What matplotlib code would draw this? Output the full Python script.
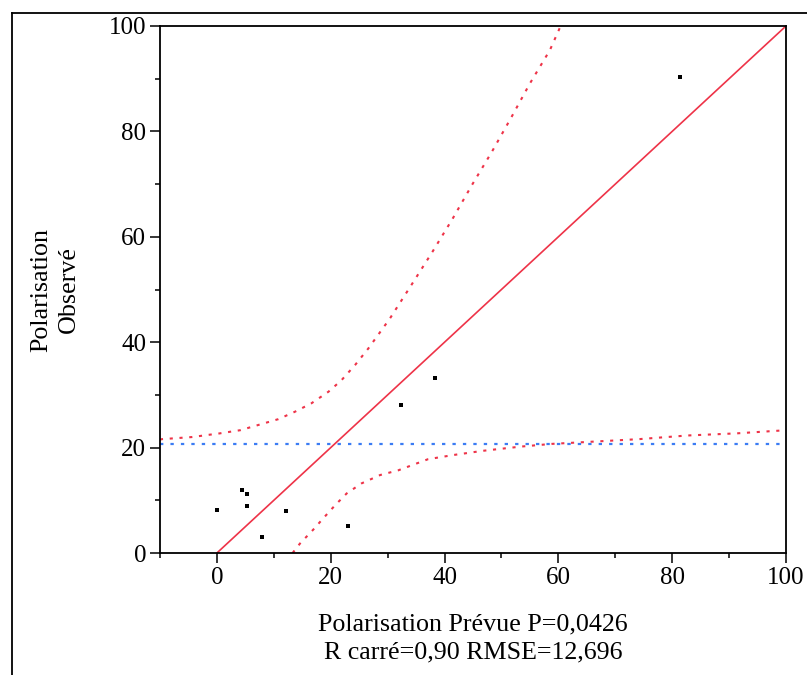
import matplotlib
matplotlib.use("Agg")
import matplotlib.pyplot as plt
from matplotlib.lines import Line2D
from matplotlib.ticker import MultipleLocator

# ---- data ----
pred_x = [0.0, 4.4, 5.3, 5.3, 7.9, 12.1, 23.0, 32.3, 38.3, 81.4]
obs_y = [8.2, 12.0, 11.2, 8.9, 3.0, 8.0, 5.1, 28.1, 33.2, 90.3]

fit_x = [0, 100]
fit_y = [0, 100]

mean_y = 20.6

upper_x = [-10.0, -9.7, -4.4, 0.5, 4.1, 7.3, 10.8, 13.7, 16.6, 19.6, 21.9, 24.3,
           26.6, 30.4, 34.2, 37.9, 41.4, 44.8, 48.3, 51.7, 55.0, 58.5, 60.4]
upper_y = [21.5, 21.6, 22.0, 22.7, 23.3, 24.3, 25.4, 26.8, 28.4, 30.6, 32.8, 35.7,
           38.8, 44.5, 50.9, 57.2, 63.4, 69.8, 76.1, 82.6, 89.1, 95.4, 100.0]

lower_x = [13.3, 14.6, 16.9, 18.7, 20.8, 22.8, 25.4, 28.7, 31.9, 37.1, 41.6,
           46.8, 53.5, 58.8, 65.6, 74.1, 82.7, 91.3, 100.0]
lower_y = [0.0, 1.8, 4.4, 6.6, 9.1, 11.3, 13.2, 14.8, 15.7, 17.8, 18.6,
           19.4, 20.2, 20.7, 21.1, 21.6, 22.3, 22.7, 23.3]

x_ticks = [0, 20, 40, 60, 80, 100]
y_ticks = [0, 20, 40, 60, 80, 100]

xlabel = "Polarisation Prévue P=0,0426\nR carré=0,90 RMSE=12,696"
ylabel = "Polarisation\nObservé"

# ---- style ----
plt.rcParams["font.family"] = ["Liberation Serif", "DejaVu Serif"]
RED = "#ee3348"
BLUE = "#3b7cf4"
DOT = (0, (1.5, 3.2))

W, H = 807, 675
fig = plt.figure(figsize=(W / 100, H / 100), dpi=100)
ax = fig.add_axes([160 / W, 1 - 553 / H, (786 - 160) / W, (553 - 26) / H])

ax.plot(upper_x, upper_y, color=RED, lw=1.5, linestyle=DOT)
ax.plot(lower_x, lower_y, color=RED, lw=1.5, linestyle=DOT)
ax.axhline(mean_y, color=BLUE, lw=1.6, linestyle=DOT)
ax.plot(fit_x, fit_y, color=RED, lw=1.2)
ax.plot(pred_x, obs_y, linestyle="none", marker="s", markersize=2.4,
        color="black", markeredgewidth=0)

ax.set_xlim(-10, 100)
ax.set_ylim(0, 100)
ax.set_xticks(x_ticks)
ax.set_yticks(y_ticks)
ax.xaxis.set_minor_locator(MultipleLocator(10))
ax.yaxis.set_minor_locator(MultipleLocator(10))
ax.tick_params(which="major", direction="out", length=7, width=1.1,
               labelsize=18, pad=3, colors="black")
ax.tick_params(which="minor", direction="out", length=3.5, width=1.1)
for s in ax.spines.values():
    s.set_linewidth(1.3)

ax.set_xlabel(xlabel, fontsize=18.7, linespacing=1.3, labelpad=18)
ax.set_ylabel(ylabel, fontsize=18.7, linespacing=1.3, labelpad=21)

# outer frame (partially cropped)
fig.add_artist(Line2D([12 / W, 1.0], [1 - 13 / H, 1 - 13 / H],
                      transform=fig.transFigure, color="black", lw=1.3))
fig.add_artist(Line2D([12 / W, 12 / W], [1 - 13 / H, 0.0],
                      transform=fig.transFigure, color="black", lw=1.3))

fig.savefig("out.png", dpi=100)
